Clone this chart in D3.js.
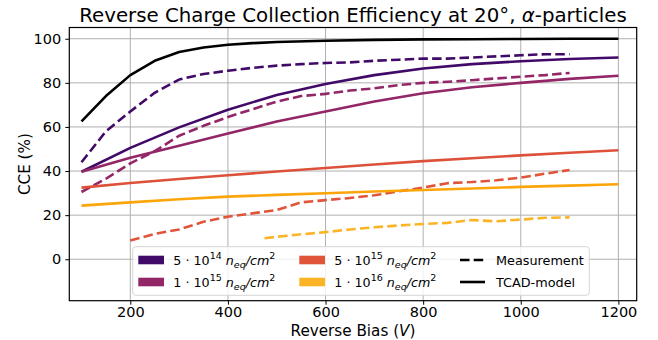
<!DOCTYPE html>
<html><head><meta charset="utf-8">
<script src="https://cdn.jsdelivr.net/npm/d3@7"></script>
<style>
body{margin:0;background:#fff;}
text{font-family:"DejaVu Sans",sans-serif;fill:#000;}
</style></head>
<body><svg id="c" width="658" height="340"></svg>
<script>
// ---- data ----
const xTicks = [200, 400, 600, 800, 1000, 1200];
const yTicks = [0, 20, 40, 60, 80, 100];
const fluences = ["5e14", "1e15", "5e15", "1e16"];
const fluenceExp = [["5", "14"], ["1", "15"], ["5", "15"], ["1", "16"]];
const colors = ["#420a68", "#932667", "#dd513a", "#fca50a"];
const measColors = ["#420a68", "#932667", "#e0553a", "#fbb425"];
const patchColors = ["#420a68", "#932667", "#e0553a", "#fbb425"];

const tcadBlackV = [100,150,200,250,300,350,400,450,500,600,700,800,900,1000,1100,1200];
const tcadBlackCCE = [62.5,74,83.5,90,94,96,97.3,98,98.5,99.1,99.5,99.7,99.8,99.9,100,100];

const tcadV = [100,200,300,400,500,600,700,800,900,1000,1100,1200];
const tcad5e14 = [39.7,50.5,59.8,67.8,74.5,79.5,83.5,86.5,88.5,89.8,90.8,91.5];
const tcad1e15 = [39.7,46,51.5,57,62.5,67,71.5,75.3,78,80,81.8,83.2];
const tcad5e15 = [32.5,34.6,36.4,38.1,39.8,41.4,43,44.5,45.8,47.1,48.3,49.4];
const tcad1e16 = [24.3,25.8,27.2,28.4,29.2,29.9,30.7,31.4,32.1,32.8,33.4,34];

const meas5e14V = [100,150,200,250,300,350,400,450,500,550,600,650,700,750,800,850,900,950,1000,1050,1100];
const meas5e14 = [44,58,67,75.5,81.5,84,85.5,86.8,87.8,88.5,89,89.3,90,90.5,91,91,91.5,92,92.5,93,93];
const meas1e15V = [100,150,200,250,300,350,400,450,500,550,600,650,700,750,800,850,900,950,1000,1050,1100];
const meas1e15 = [30.5,36.5,43.5,49,56,60.5,64.5,68,71.5,74,75,76.5,77.5,79,80,80.5,81.2,82,82.8,83.5,84.5];
const meas5e15V = [200,250,300,350,400,450,500,550,600,650,700,750,800,850,900,950,1000,1050,1100];
const meas5e15 = [8.5,11.5,13.5,17,19.3,20.8,22.3,25.8,26.8,27.8,29,30.8,32.5,34.5,35,35.8,37,38.8,40.5];
const meas1e16V = [475,500,550,600,650,700,750,800,850,900,950,1000,1050,1100];
const meas1e16 = [9.5,10.2,11.3,12.3,13.5,14.5,15.3,16,16.5,17.8,17.2,18,18.8,19];

const measV = [meas5e14V, meas1e15V, meas5e15V, meas1e16V];
const measY = [meas5e14, meas1e15, meas5e15, meas1e16];
const tcadY = [tcad5e14, tcad1e15, tcad5e15, tcad1e16];

// ---- layout ----
const L = 69.3, R = 636.7, T = 27.5, B = 300.7;
const x = d3.scaleLinear().domain([75, 1237.5]).range([L, R]);
const y = d3.scaleLinear().domain([-18.8, 105.1]).range([B, T]);
const svg = d3.select("#c");

svg.append("defs").append("clipPath").attr("id","clip")
  .append("rect").attr("x",L).attr("y",T).attr("width",R-L).attr("height",B-T);

// grid
const g = svg.append("g");
g.selectAll(".gx").data(xTicks).enter().append("line")
  .attr("x1",d=>x(d)).attr("x2",d=>x(d)).attr("y1",T).attr("y2",B)
  .attr("stroke","#b0b0b0").attr("stroke-width",1);
g.selectAll(".gy").data(yTicks).enter().append("line")
  .attr("x1",L).attr("x2",R).attr("y1",d=>y(d)).attr("y2",d=>y(d))
  .attr("stroke","#b0b0b0").attr("stroke-width",1);

// lines
const line = d3.line().x(d=>x(d[0])).y(d=>y(d[1]));
const plot = svg.append("g").attr("clip-path","url(#clip)");
function draw(vs, ys, color, dashed){
  const pts = vs.map((v,i)=>[v, ys[i]]);
  plot.append("path").attr("d", line(pts)).attr("fill","none")
    .attr("stroke", color).attr("stroke-width", 2.6)
    .attr("stroke-linejoin","round")
    .attr("stroke-dasharray", dashed ? "9.5,4.2" : null);
}
for (let i=0;i<4;i++){
  draw(tcadV, tcadY[i], colors[i], false);
  draw(measV[i], measY[i], measColors[i], true);
}
draw(tcadBlackV, tcadBlackCCE, "#000", false);

// axes
const xAxis = svg.append("g").attr("transform",`translate(0,${B})`)
  .call(d3.axisBottom(x).tickValues(xTicks).tickSize(4).tickPadding(2).tickFormat(d3.format("d")));
const yAxis = svg.append("g").attr("transform",`translate(${L},0)`)
  .call(d3.axisLeft(y).tickValues(yTicks).tickSize(4).tickPadding(4).tickFormat(d3.format("d")));
[xAxis,yAxis].forEach(a=>{
  a.select(".domain").remove();
  a.selectAll("text").style("font-family","DejaVu Sans").style("font-size","14.5px").attr("fill","#000");
  a.selectAll("line").attr("stroke","#000").attr("stroke-width",1);
});
svg.append("rect").attr("x",L).attr("y",T).attr("width",R-L).attr("height",B-T)
  .attr("fill","none").attr("stroke","#000").attr("stroke-width",1.2);

// title
const title = svg.append("text").attr("x",(L+R)/2).attr("y",22).attr("text-anchor","middle")
  .style("font-size","19.8px");
title.append("tspan").text("Reverse Charge Collection Efficiency at 20°, ");
title.append("tspan").style("font-style","italic").text("α");
title.append("tspan").text("-particles");

// axis labels
const xl = svg.append("text").attr("x",(L+R)/2).attr("y",335.5).attr("text-anchor","middle").style("font-size","15.2px");
xl.append("tspan").text("Reverse Bias (");
xl.append("tspan").style("font-style","italic").text("V");
xl.append("tspan").text(")");
svg.append("text").attr("transform",`translate(30,${(T+B)/2}) rotate(-90)`).attr("text-anchor","middle")
  .style("font-size","15.2px").text("CCE (%)");

// legend
const lg = svg.append("g");
lg.append("rect").attr("x",132.7).attr("y",246.7).attr("width",456.6).attr("height",48.6)
  .attr("rx",3).attr("fill","#fff").attr("fill-opacity",0.8).attr("stroke","#d6d6d6").attr("stroke-width",1);
const colX = [138.3, 299.3];
const rowY = [260, 282];
fluences.forEach((f,i)=>{
  const cx = colX[Math.floor(i/2)], ry = rowY[i%2];
  lg.append("rect").attr("x",cx).attr("y",ry-4.3).attr("width",25.7).attr("height",8.6).attr("fill",patchColors[i]);
  const t = lg.append("text").attr("x",cx+35).attr("y",ry+4.5).style("font-size","12.7px");
  t.append("tspan").text(fluenceExp[i][0]+" \u00b7 "+"10");
  t.append("tspan").attr("dy",-5.5).style("font-size","9.5px").text(fluenceExp[i][1]);
  t.append("tspan").attr("dy",5.5).text(" ");
  t.append("tspan").style("font-style","italic").text("n");
  t.append("tspan").attr("dy",3).style("font-size","9.5px").style("font-style","italic").text("eq");
  t.append("tspan").attr("dy",-3).style("font-style","italic").text("/cm");
  t.append("tspan").attr("dy",-5.5).style("font-size","9.5px").text("2");
});
const styleNames = ["Measurement","TCAD-model"];
styleNames.forEach((s,i)=>{
  const ry = rowY[i];
  lg.append("line").attr("x1",460).attr("x2",485).attr("y1",ry).attr("y2",ry)
    .attr("stroke","#000").attr("stroke-width",2.6).attr("stroke-dasharray", i===0 ? "9.5,4.2" : null);
  lg.append("text").attr("x",496).attr("y",ry+4.5).style("font-size","12.8px").text(s);
});
</script></body></html>
